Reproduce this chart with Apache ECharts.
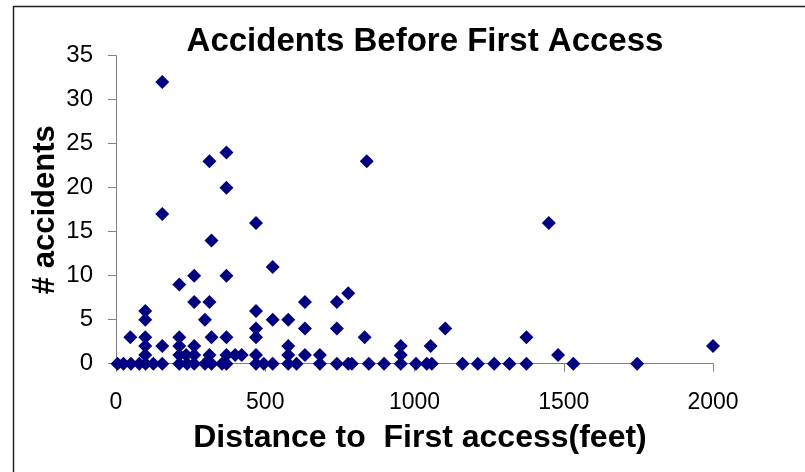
<!DOCTYPE html>
<html>
<head>
<meta charset="utf-8">
<style>
  html, body { margin: 0; padding: 0; background: #fff; }
  #chart { width: 805px; height: 472px; }
</style>
<script src="https://cdn.jsdelivr.net/npm/echarts@6/dist/echarts.min.js"></script>
</head>
<body>
<div id="chart"></div>
<script>
// distance to first access (feet) and accidents
const distance = [
  155, 155, 313, 370, 370, 469, 320, 525, 212, 262, 370, 262, 313, 633, 740, 778, 840, 1450,
  98, 98, 298, 469, 525, 577, 633, 740, 469, 1103,
  48, 98, 212, 320, 370, 469, 833, 1375,
  98, 155, 212, 262, 577, 954, 1054, 2000,
  98, 212, 235, 262, 313, 370, 399, 421, 469, 577, 633, 683, 954, 1481,
  5, 25, 50, 78, 99, 125, 155, 212, 238, 262, 298, 320, 355, 370, 469, 495, 525, 577,
  605, 683, 740, 778, 790, 847, 898, 954, 1005, 1041, 1058, 1161, 1212, 1267, 1318,
  1375, 1532, 1746
]
const accidents = [
  32, 17, 23, 24, 20, 16, 14, 11, 9, 10, 10, 7, 7, 7, 7, 8, 23, 16,
  6, 5, 5, 6, 5, 5, 4, 4, 4, 4,
  3, 3, 3, 3, 3, 3, 3, 3,
  2, 2, 2, 2, 2, 2, 2, 2,
  1, 1, 1, 1, 1, 1, 1, 1, 1, 1, 1, 1, 1, 1,
  0, 0, 0, 0, 0, 0, 0, 0, 0, 0, 0, 0, 0, 0, 0, 0, 0, 0,
  0, 0, 0, 0, 0, 0, 0, 0, 0, 0, 0, 0, 0, 0, 0,
  0, 0, 0
]
const xTicks = [0, 500, 1000, 1500, 2000]
const yTicks = [0, 5, 10, 15, 20, 25, 30, 35]

const points = distance.map((d, i) => [d, accidents[i]])
const font = '"Liberation Sans", Arial, sans-serif'

const chart = echarts.init(document.getElementById('chart'))
chart.setOption({
  animation: false,
  backgroundColor: '#fff',
  title: {
    text: 'Accidents Before First Access',
    left: 420,
    textAlign: 'center',
    top: 20,
    textStyle: { fontFamily: font, fontSize: 33, fontWeight: 'bold', color: '#000' },
  },
  graphic: [
    {
      type: 'rect',
      shape: { x: 13.5, y: 6.5, width: 900, height: 600 },
      style: { fill: 'none', stroke: '#222', lineWidth: 1.5 },
      silent: true,
    },
  ],
  grid: { left: 116, right: 92, top: 55.7, bottom: 108.3 },
  xAxis: {
    type: 'value',
    min: xTicks[0],
    max: xTicks[xTicks.length - 1],
    interval: 500,
    name: 'Distance to  First access(feet)',
    nameLocation: 'middle',
    nameGap: 58,
    nameMoveOverlap: false,
    nameTextStyle: { fontFamily: font, fontSize: 32, fontWeight: 'bold', color: '#000', padding: [0, 0, 0, 11] },
    axisLine: { show: true, lineStyle: { color: '#808080', width: 1 } },
    axisTick: { show: true, inside: false, length: 8, lineStyle: { color: '#808080' } },
    axisLabel: {
      fontFamily: font, fontSize: 23, color: '#000', margin: 27,
      formatter: v => String(v),
    },
    splitLine: { show: false },
  },
  yAxis: {
    type: 'value',
    min: yTicks[0],
    max: yTicks[yTicks.length - 1],
    interval: 5,
    name: '# accidents',
    nameLocation: 'middle',
    nameGap: 55,
    nameMoveOverlap: false,
    nameTextStyle: { fontFamily: font, fontSize: 31, fontWeight: 'bold', color: '#000' },
    axisLine: { show: true, lineStyle: { color: '#808080', width: 1 } },
    axisTick: { show: true, inside: false, length: 8, lineStyle: { color: '#808080' } },
    axisLabel: { fontFamily: font, fontSize: 24, color: '#000', margin: 23 },
    splitLine: { show: false },
  },
  series: [
    {
      type: 'scatter',
      data: points,
      symbol: 'diamond',
      symbolSize: 14,
      clip: false,
      itemStyle: { color: '#000080', opacity: 1 },
    },
  ],
})
</script>
</body>
</html>
